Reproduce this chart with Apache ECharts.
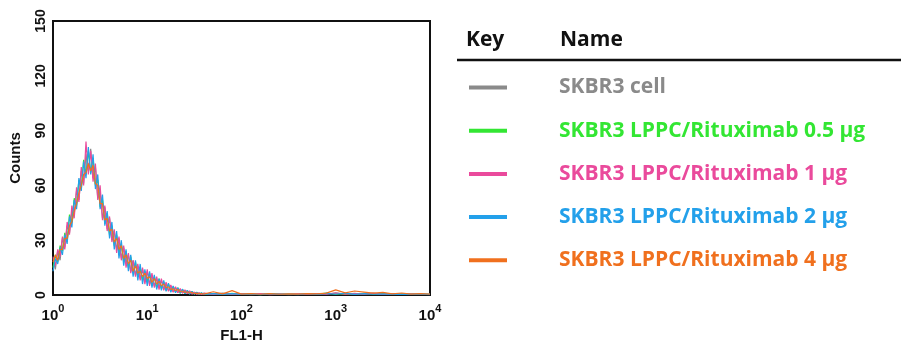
<!DOCTYPE html>
<html>
<head>
<meta charset="utf-8">
<script src="https://cdn.jsdelivr.net/npm/echarts@6/dist/echarts.min.js"></script>
<style>
  html, body { margin: 0; padding: 0; background: #fff; }
  #chart { width: 901px; height: 344px; }
</style>
</head>
<body>
<div id="chart"></div>
<script>
// FL1-H channel positions (log scale)
var fl1 = [1.000, 1.059, 1.122, 1.189, 1.259, 1.334, 1.413, 1.496, 1.585, 1.679,
  1.778, 1.884, 1.995, 2.113, 2.239, 2.371, 2.512, 2.661, 2.818, 2.985,
  3.162, 3.350, 3.548, 3.758, 3.981, 4.217, 4.467, 4.732, 5.012, 5.309,
  5.623, 5.957, 6.310, 6.683, 7.079, 7.499, 7.943, 8.414, 8.913, 9.441,
  10.00, 10.59, 11.22, 11.89, 12.59, 13.34, 14.13, 14.96, 15.85, 16.79,
  17.78, 18.84, 19.95, 21.13, 22.39, 23.71, 25.12, 26.61, 28.18, 29.85,
  31.62, 33.50, 35.48, 37.58, 39.81,
  50.12, 63.10, 79.43, 100, 125.9, 158.5, 199.5, 251.2, 316.2, 398.1,
  501.2, 631.0, 794.3, 1000, 1259, 1585, 1995, 2512, 3162, 3981,
  5012, 6310, 7943, 10000];

var names = ["SKBR3 cell", "SKBR3 LPPC/Rituximab 0.5 μg", "SKBR3 LPPC/Rituximab 1 μg",
  "SKBR3 LPPC/Rituximab 2 μg", "SKBR3 LPPC/Rituximab 4 μg"];
var colors = ["#8a8a8a", "#33e633", "#ea4a9c", "#23a0ea", "#f0701e"];

var cellOnly = [20, 14, 24, 19, 31, 26, 38, 34, 46, 44, 57, 52, 68, 61, 77, 68, 80, 64, 70, 53,
  57, 42, 48, 36, 42, 30, 35, 25, 31, 20, 26, 17, 22, 13, 19, 11, 16, 9, 14, 7,
  13, 6, 11, 5, 9, 4, 8, 3, 6, 2.5, 5, 1.8, 4, 1.4, 3, 1.2, 2.5, 0.8, 2, 0.6,
  1.4, 0.5, 1.1, 0.4, 0.9,
  0.4, 1, 0.3, 0.7, 0.2, 0.5, 0.3, 0.6, 0.2, 0.5, 0.3, 0.8, 0.4, 1.2, 0.5, 0.9, 0.4, 1, 0.3, 0.7, 0.4, 0.6, 0.3, 0.5];
var ritux05 = [15, 22, 18, 27, 24, 34, 29, 44, 40, 53, 49, 63, 58, 74, 66, 79, 67, 75, 60, 63,
  48, 52, 39, 45, 33, 38, 27, 33, 23, 28, 18, 24, 15, 21, 12, 18, 10, 15, 8, 13,
  7, 12, 5, 10, 4, 9, 3.5, 7, 2.5, 6, 2, 4.5, 1.5, 4, 1, 3, 0.8, 2.4, 0.6, 2,
  0.5, 1.4, 0.4, 1.1, 0.3,
  0.8, 0.3, 0.9, 0.4, 0.6, 0.2, 0.7, 0.3, 0.5, 0.3, 0.6, 0.3, 1.0, 0.4, 0.8, 0.3, 0.9, 0.5, 0.7, 0.3, 0.6, 0.3, 0.5, 0.3];
var ritux1 = [21, 16, 25, 21, 32, 25, 40, 33, 49, 42, 59, 51, 70, 60, 84, 66, 79, 62, 72, 52,
  60, 41, 49, 35, 43, 29, 36, 23, 32, 19, 27, 15, 23, 12, 19, 10, 17, 8, 15, 6,
  14, 5, 12, 4, 10, 3, 9, 2.5, 7, 2, 5.5, 1.5, 4.5, 1.2, 3.5, 1, 2.8, 0.7, 2.2, 0.5,
  1.6, 0.4, 1.2, 0.3, 1,
  0.3, 0.8, 0.4, 0.6, 0.3, 0.7, 0.2, 0.5, 0.4, 0.6, 0.3, 0.7, 0.5, 1.1, 0.4, 0.8, 0.5, 0.9, 0.3, 0.6, 0.4, 0.5, 0.3, 0.4];
var ritux2 = [13, 20, 17, 26, 22, 33, 28, 43, 37, 52, 47, 64, 57, 73, 64, 81, 66, 77, 58, 66,
  47, 55, 38, 46, 31, 40, 25, 35, 20, 30, 16, 25, 13, 22, 10, 19, 8, 17, 6, 14,
  5, 13, 4, 11, 3, 9, 2.5, 8, 2, 6.5, 1.5, 5, 1.2, 4, 1, 3.2, 0.7, 2.5, 0.5, 2,
  0.4, 1.5, 0.3, 1.2, 0.3,
  0.7, 0.3, 0.8, 0.3, 0.5, 0.2, 0.6, 0.3, 0.5, 0.2, 0.7, 0.3, 0.9, 0.4, 1.0, 0.3, 0.8, 0.4, 0.6, 0.3, 0.5, 0.3, 0.5, 0.2];
var ritux4 = [18, 22, 19, 25, 25, 31, 31, 38, 40, 46, 50, 56, 60, 66, 67, 72, 68, 71, 61, 60,
  50, 50, 41, 42, 35, 36, 29, 31, 25, 27, 20, 22, 17, 19, 13, 16, 12, 13, 10, 12,
  9, 10, 7, 9, 6, 7.5, 5, 6, 4, 4.5, 3, 3.5, 2.5, 3, 1.8, 2.2, 1.4, 1.8, 1.1, 1.4,
  0.8, 1, 0.6, 0.8, 0.5,
  1.8, 0.6, 2.4, 0.5, 0.8, 0.4, 0.7, 0.4, 0.6, 0.5, 0.8, 0.6, 1.0, 2.8, 1.2, 2.2, 1.6, 1.0, 1.4, 0.6, 1.1, 0.5, 0.8, 0.4];

var yTicks = [0, 30, 60, 90, 120, 150];

var allSeries = [cellOnly, ritux05, ritux1, ritux2, ritux4];

function pairs(vals) {
  return vals.map(function (v, i) { return [fl1[i], v]; });
}

var myChart = echarts.init(document.getElementById("chart"));

var option = {
  animation: false,
  textStyle: { fontFamily: "Liberation Sans, Arial, sans-serif" },
  grid: {
    left: 53, right: 471, top: 21, bottom: 49,
    outerBoundsMode: "none",
    show: true, borderColor: "#111", borderWidth: 2
  },
  xAxis: {
    type: "log",
    logBase: 10,
    min: 1,
    max: 10000,
    name: "FL1-H",
    nameLocation: "middle",
    nameGap: 31,
    nameTextStyle: { fontSize: 15, fontWeight: "bold", color: "#111" },
    axisLine: { lineStyle: { color: "#111", width: 2 } },
    axisTick: { show: false },
    splitLine: { show: false },
    axisLabel: {
      margin: 8,
      formatter: function (v) {
        return "{b|10}{s|" + Math.round(Math.log10(v)) + "}";
      },
      rich: {
        b: { fontSize: 15, fontWeight: "bold", color: "#111", verticalAlign: "bottom", lineHeight: 20 },
        s: { fontSize: 11, fontWeight: "bold", color: "#111", verticalAlign: "top", lineHeight: 20 }
      }
    }
  },
  yAxis: {
    type: "value",
    min: yTicks[0],
    max: yTicks[yTicks.length - 1],
    interval: 30,
    name: "Counts",
    nameLocation: "middle",
    nameGap: 30,
    nameTextStyle: { fontSize: 15, fontWeight: "bold", color: "#111" },
    axisLine: { show: true, lineStyle: { color: "#111", width: 2 } },
    axisTick: { show: false },
    splitLine: { show: false },
    axisLabel: { rotate: 90, margin: 5, fontSize: 14, fontWeight: "bold", color: "#111" }
  },
  legend: {
    orient: "vertical",
    left: 464,
    top: 70,
    icon: "rect",
    itemWidth: 38,
    itemHeight: 4,
    itemGap: 18.2,
    selectedMode: false,
    textStyle: { fontFamily: "Open Sans", fontSize: 21, fontWeight: "bold", lineHeight: 25, padding: [0, 0, 0, 47] },
    data: names.map(function (n, i) {
      return { name: n, textStyle: { color: colors[i] } };
    })
  },
  graphic: [
    { type: "text", left: 466, top: 30, style: { text: "Key", font: "bold 21px 'Open Sans'", fill: "#111" } },
    { type: "text", left: 560, top: 30, style: { text: "Name", font: "bold 21px 'Open Sans'", fill: "#111" } },
    { type: "line", shape: { x1: 457, y1: 60, x2: 901, y2: 60 }, style: { stroke: "#111", lineWidth: 2.5 } }
  ],
  series: allSeries.map(function (vals, i) {
    return {
      name: names[i],
      type: "line",
      data: pairs(vals),
      showSymbol: false,
      color: colors[i],
      lineStyle: { width: 1.2, color: colors[i] }
    };
  })
};

myChart.setOption(option);
</script>
</body>
</html>
